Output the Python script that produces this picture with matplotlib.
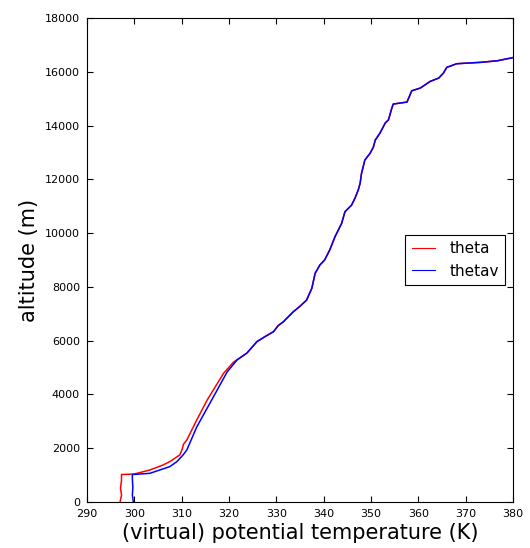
import matplotlib
matplotlib.use("Agg")
import matplotlib.pyplot as plt
import numpy as np

# upper (shared) profile: both curves coincide above ~5500 m
upper_theta = [323.8, 325.9, 327.6, 329.4, 330.4, 331.5, 333.6, 335.0, 336.4, 337.5, 338.2,
               339.2, 340.2, 341.3, 342.4, 343.8, 344.5, 345.9, 346.6, 347.3, 347.7, 348.0,
               348.7, 349.8, 350.5, 350.9, 351.9, 353.0, 353.7, 354.4, 354.7, 357.6, 358.6,
               360.4, 362.5, 364.3, 365.3, 366.0, 368.1, 373.2, 376.7, 380.2, 385.0]
upper_alt = [5541, 5962, 6150, 6335, 6560, 6705, 7077, 7280, 7512, 7947, 8505,
             8814, 9000, 9380, 9868, 10364, 10796, 11045, 11294, 11603, 11852, 12224,
             12718, 12968, 13200, 13462, 13723, 14094, 14218, 14653, 14802, 14876, 15296,
             15396, 15645, 15768, 15954, 16166, 16302, 16354, 16413, 16538, 16700]

theta_low = [297.0, 297.3, 297.1, 297.3, 297.3, 300.0, 303.3, 306.0, 307.5, 309.6, 310.1,
             310.4, 311.1, 313.2, 315.4, 318.9, 321.0]
theta_low_alt = [0, 250, 520, 800, 1020, 1040, 1190, 1370, 1500, 1748, 1950,
                 2150, 2306, 3050, 3793, 4797, 5207]

thetav_low = [299.8, 299.6, 299.7, 299.6, 299.6, 303.3, 307.5, 309.0, 310.3, 311.1, 313.2,
              316.0, 318.1, 319.6, 321.7]
thetav_low_alt = [0, 250, 550, 850, 1020, 1066, 1314, 1500, 1748, 1934, 2790,
                  3682, 4351, 4834, 5281]

theta = theta_low + upper_theta
theta_alt = theta_low_alt + upper_alt
thetav = thetav_low + upper_theta
thetav_alt = thetav_low_alt + upper_alt

fig = plt.figure(figsize=(5.30, 5.48), dpi=100)
ax = fig.add_axes([0.164, 0.084, 0.804, 0.883])
ax.plot(theta, theta_alt, color='red', lw=1.1, label='theta')
ax.plot(thetav, thetav_alt, color='blue', lw=1.1, label='thetav')
ax.set_xlim(290, 380)
ax.set_ylim(0, 18000)
ax.set_xticks(np.arange(290, 381, 10))
ax.set_yticks(np.arange(0, 18001, 2000))
ax.tick_params(direction='in', top=True, right=True, labelsize=8, length=4, pad=5)
ax.set_xlabel('(virtual) potential temperature (K)', fontsize=15, labelpad=3)
ax.set_ylabel('altitude (m)', fontsize=15)
leg = ax.legend(loc='center right', fontsize=11, fancybox=False, framealpha=1,
                edgecolor='black', borderaxespad=0.5, handlelength=1.5,
                handletextpad=1.0, borderpad=0.4)
leg.get_frame().set_linewidth(0.8)
for l in leg.get_lines():
    l.set_linewidth(0.8)
fig.savefig('out.png', dpi=100)
